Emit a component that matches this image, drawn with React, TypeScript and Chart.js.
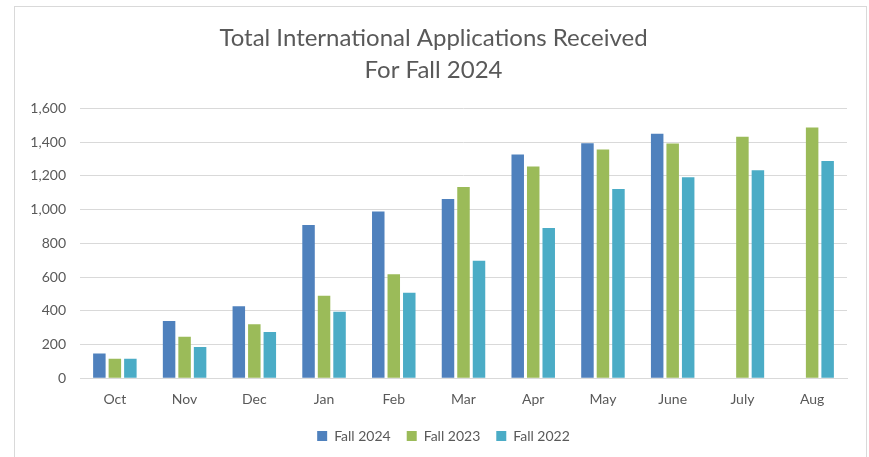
import React, { useEffect, useRef } from "react";
import { Chart, registerables } from "chart.js";

Chart.register(...registerables);

const months = ["Oct", "Nov", "Dec", "Jan", "Feb", "Mar", "Apr", "May", "June", "July", "Aug"];
const fall2024 = [146, 339, 426, 909, 988, 1063, 1327, 1394, 1450, null, null];
const fall2023 = [116, 246, 320, 489, 617, 1134, 1256, 1357, 1392, 1432, 1486];
const fall2022 = [116, 185, 274, 394, 507, 696, 890, 1122, 1191, 1233, 1288];
const titleLines = ["Total International Applications Received", "For Fall 2024"];
const seriesNames = ["Fall 2024", "Fall 2023", "Fall 2022"];

const FONT = "Lato, 'Open Sans', sans-serif";

const legendShift = {
  id: "legendShift",
  afterLayout(chart: any) {
    if (chart.legend) {
      chart.legend.left += 10;
      chart.legend.right += 10;
    }
  },
};

export default function App() {
  const ref = useRef<HTMLCanvasElement>(null);
  useEffect(() => {
    const ctx = ref.current!.getContext("2d")!;
    const chart = new Chart(ctx, {
      type: "bar",
      data: {
        labels: months,
        datasets: [
          { label: seriesNames[0], data: fall2024, backgroundColor: "#4F81BD" },
          { label: seriesNames[1], data: fall2023, backgroundColor: "#9BBB59" },
          { label: seriesNames[2], data: fall2022, backgroundColor: "#4BACC6" },
        ],
      },
      plugins: [legendShift],
      options: {
        responsive: false,
        animation: false,
        devicePixelRatio: 1,
        datasets: { bar: { categoryPercentage: 0.667, barPercentage: 0.806 } },
        layout: { padding: { left: 20, right: 22, top: 23, bottom: 4 } },
        plugins: {
          title: {
            display: true,
            text: titleLines,
            color: "#595959",
            font: { family: FONT, size: 24, weight: "400", lineHeight: 1.3 },
            padding: { top: 0, bottom: 23 },
          },
          legend: {
            position: "bottom",
            labels: {
              boxWidth: 10,
              boxHeight: 10,
              color: "#595959",
              font: { family: FONT, size: 14 },
              padding: 16,
            },
          },
          tooltip: { enabled: false },
        },
        scales: {
          x: {
            grid: { display: false },
            border: { color: "#d9d9d9" },
            ticks: { color: "#595959", font: { family: FONT, size: 14 }, padding: 5 },
          },
          y: {
            min: 0,
            max: 1600,
            afterFit: (s: any) => { s.width = 60; },
            grid: { color: "#d9d9d9", drawTicks: false },
            border: { display: false },
            ticks: {
              stepSize: 200,
              color: "#595959",
              font: { family: FONT, size: 14 },
              padding: 14,
              callback: (v: any) => Number(v).toLocaleString("en-US"),
            },
          },
        },
      },
    });
    return () => chart.destroy();
  }, []);
  return (
    <div style={{ position: "fixed", left: 0, top: 0, width: 869, height: 457, background: "#fff" }}>
      <div style={{ position: "absolute", left: 14, top: 6, width: 851, height: 460, border: "1px solid #d9d9d9", borderBottom: "none" }} />
      <canvas ref={ref} width={869} height={457} style={{ position: "absolute", left: 0, top: 0 }} />
    </div>
  );
}
